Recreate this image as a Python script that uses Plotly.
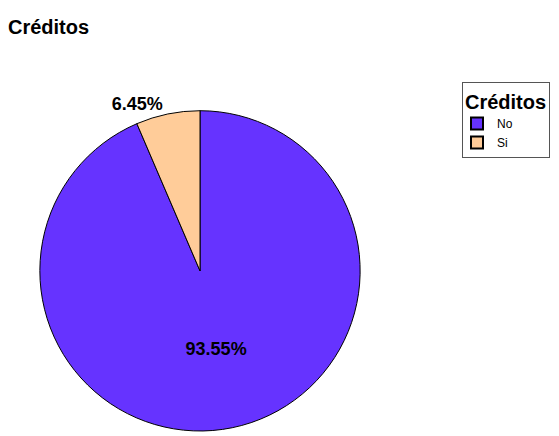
import plotly.graph_objects as go

categories = ["No", "Si"]
percent_values = [93.55, 6.45]
colors = ["#6633FF", "#FFCC99"]
chart_title = "Créditos"
legend_title = "Créditos"

W, H = 559, 436
FONT = "Liberation Sans, Arial, sans-serif"
label_font = dict(family=FONT, size=18, color="black", weight="bold")

fig = go.Figure(go.Pie(
    labels=categories,
    values=percent_values,
    sort=False,
    direction="clockwise",
    rotation=0,
    marker=dict(colors=colors, line=dict(color="black", width=1)),
    texttemplate="%{percent:.2%}",
    textposition=["inside", "outside"],
    textfont=label_font,
    insidetextfont=label_font,
    outsidetextfont=label_font,
    domain=dict(x=[38 / W, 362 / W], y=[0, 324 / H]),
    hoverinfo="label+percent",
))

fig.update_layout(
    width=W, height=H,
    margin=dict(l=0, r=0, t=0, b=0),
    paper_bgcolor="white",
    plot_bgcolor="white",
    title=dict(text="<b>" + chart_title + "</b>", xref="container", yref="container",
               x=8 / W, xanchor="left", y=1 - 27 / H, yanchor="middle",
               font=dict(family=FONT, size=20, color="black")),
    showlegend=True,
    legend=dict(
        title=dict(text="<b>" + legend_title + "</b>", side="top",
                   font=dict(family=FONT, size=20, color="black")),
        font=dict(family=FONT, size=12, color="black"),
        x=462 / W, xanchor="left", y=1 - 83 / H, yanchor="top",
        bordercolor="#555555", borderwidth=1, bgcolor="white",
        itemsizing="constant", tracegroupgap=0, indentation=-6,
        entrywidth=60, entrywidthmode="pixels",
    ),
)

fig.write_html("out.html", config={"displayModeBar": False},
               post_script="document.body.style.margin='0';")
